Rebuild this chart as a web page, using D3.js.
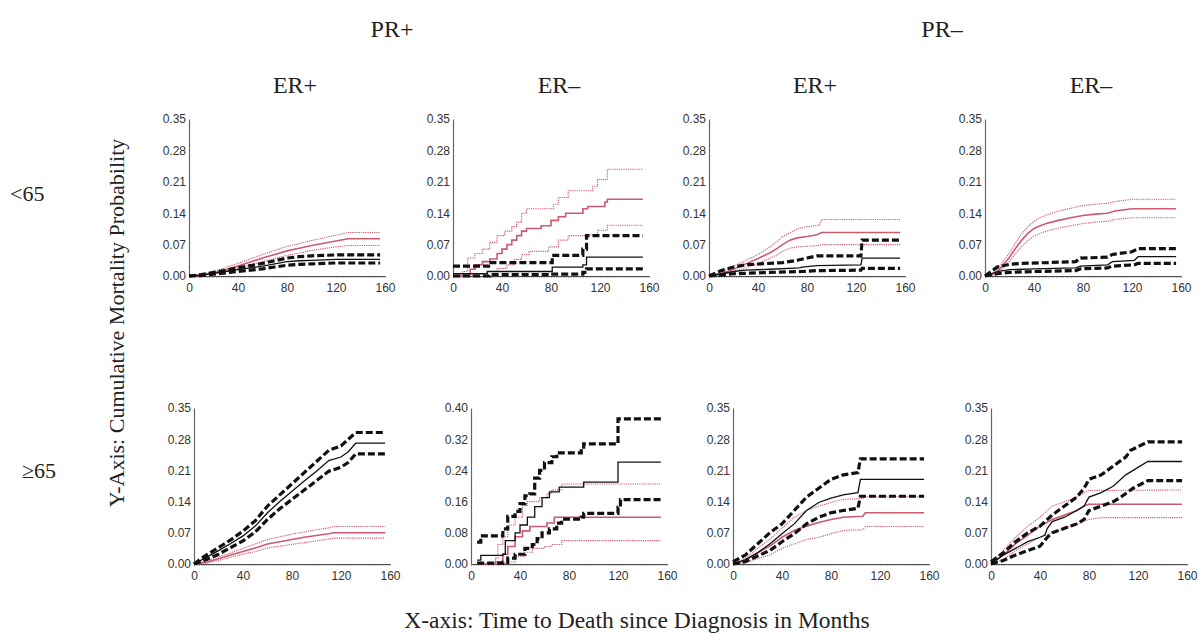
<!DOCTYPE html>
<html>
<head>
<meta charset="utf-8">
<script src="https://cdn.jsdelivr.net/npm/d3@7"></script>
<style>
body { margin: 0; background: #fff; }
</style>
</head>
<body>
<svg id="chart" width="1204" height="635"></svg>
<script>
// labels
var prLabels = ["PR+", "PR–"];
var erLabels = ["ER+", "ER–", "ER+", "ER–"];
var ageLabels = ["<65", "≥65"];
var xTicks = [0, 40, 80, 120, 160];
var yTicks35 = [0, 0.07, 0.14, 0.21, 0.28, 0.35];
var yTicks40 = [0, 0.08, 0.16, 0.24, 0.32, 0.40];

// [month, cumulative probability] -- red = first group, black = second group
// panel 1: <65, PR+ ER+
var p1RedEst = [[0,0],[10,0.002],[20,0.007],[30,0.014],[40,0.022],[50,0.031],[60,0.040],[70,0.048],[80,0.056],[90,0.062],[100,0.068],[110,0.073],[120,0.078],[130,0.083],[156,0.083]];
var p1RedHi = [[0,0],[10,0.003],[20,0.010],[30,0.019],[40,0.028],[50,0.038],[60,0.048],[70,0.057],[80,0.066],[90,0.072],[100,0.079],[110,0.085],[120,0.091],[130,0.097],[156,0.097]];
var p1RedLo = [[0,0],[10,0.001],[20,0.005],[30,0.010],[40,0.017],[50,0.024],[60,0.032],[70,0.039],[80,0.046],[90,0.051],[100,0.057],[110,0.061],[120,0.065],[130,0.068],[156,0.068]];
var p1BlkEst = [[0,0],[10,0.002],[20,0.006],[30,0.010],[40,0.014],[50,0.018],[60,0.022],[70,0.027],[80,0.032],[90,0.034],[100,0.035],[110,0.036],[120,0.037],[156,0.037]];
var p1BlkHi = [[0,0],[10,0.003],[20,0.008],[30,0.013],[40,0.018],[50,0.023],[60,0.028],[70,0.034],[80,0.040],[90,0.043],[100,0.045],[110,0.046],[120,0.047],[156,0.047]];
var p1BlkLo = [[0,0],[10,0.001],[20,0.004],[30,0.007],[40,0.010],[50,0.013],[60,0.016],[70,0.020],[80,0.024],[90,0.026],[100,0.027],[110,0.028],[120,0.029],[156,0.029]];

// panel 2: <65, PR+ ER-
var p2RedEst = [[0,0],[10,0.005],[14,0.015],[18,0.025],[24,0.032],[30,0.038],[36,0.05],[40,0.06],[44,0.07],[48,0.08],[52,0.09],[56,0.10],[60,0.106],[72,0.112],[80,0.124],[86,0.132],[92,0.14],[106,0.15],[110,0.155],[124,0.165],[126,0.171],[155,0.171]];
var p2RedHi = [[0,0],[8,0.01],[12,0.04],[18,0.05],[24,0.06],[30,0.075],[36,0.09],[42,0.10],[48,0.11],[52,0.12],[56,0.14],[60,0.15],[82,0.16],[86,0.175],[94,0.19],[114,0.20],[118,0.215],[126,0.238],[155,0.238]];
var p2RedLo = [[0,0],[14,0.002],[20,0.005],[28,0.01],[36,0.017],[44,0.025],[50,0.037],[56,0.048],[62,0.055],[78,0.065],[86,0.08],[94,0.09],[108,0.092],[118,0.102],[126,0.113],[155,0.113]];
var p2BlkEst = [[0,0.005],[28,0.01],[81,0.02],[106,0.025],[109,0.042],[155,0.042]];
var p2BlkHi = [[0,0.022],[29,0.03],[81,0.046],[106,0.06],[109,0.09],[155,0.09]];
var p2BlkLo = [[0,0],[30,0.003],[80,0.004],[106,0.008],[109,0.016],[155,0.016]];

// panel 3: <65, PR- ER+
var p3RedEst = [[0,0],[10,0.005],[20,0.015],[30,0.027],[40,0.039],[50,0.052],[56,0.062],[60,0.07],[66,0.08],[72,0.085],[80,0.088],[88,0.092],[92,0.097],[156,0.097]];
var p3RedHi = [[0,0],[10,0.008],[20,0.022],[30,0.035],[40,0.048],[50,0.065],[56,0.078],[60,0.088],[66,0.096],[72,0.105],[80,0.11],[90,0.113],[92,0.126],[156,0.126]];
var p3RedLo = [[0,0],[10,0.002],[20,0.01],[30,0.018],[40,0.028],[50,0.04],[56,0.048],[60,0.055],[66,0.062],[72,0.065],[80,0.066],[90,0.068],[92,0.07],[156,0.07]];
var p3BlkEst = [[0,0],[10,0.005],[20,0.01],[30,0.013],[50,0.015],[74,0.018],[76,0.02],[88,0.023],[124,0.025],[125,0.04],[156,0.04]];
var p3BlkHi = [[0,0],[10,0.012],[20,0.02],[30,0.025],[60,0.03],[72,0.035],[80,0.04],[88,0.045],[124,0.045],[125,0.08],[156,0.08]];
var p3BlkLo = [[0,0],[10,0.002],[20,0.005],[30,0.006],[50,0.008],[76,0.01],[88,0.012],[124,0.013],[125,0.017],[156,0.017]];

// panel 4: <65, PR- ER-
var p4RedEst = [[0,0],[5,0.002],[10,0.01],[15,0.025],[20,0.042],[25,0.062],[30,0.08],[35,0.095],[40,0.106],[45,0.112],[50,0.117],[60,0.124],[70,0.13],[80,0.135],[90,0.138],[100,0.14],[106,0.145],[120,0.15],[156,0.15]];
var p4RedHi = [[0,0],[5,0.004],[10,0.015],[15,0.033],[20,0.052],[25,0.074],[30,0.094],[35,0.11],[40,0.122],[45,0.13],[50,0.136],[60,0.145],[70,0.151],[80,0.157],[90,0.16],[100,0.162],[106,0.166],[120,0.171],[156,0.171]];
var p4RedLo = [[0,0],[5,0.001],[10,0.006],[15,0.018],[20,0.033],[25,0.05],[30,0.066],[35,0.079],[40,0.089],[45,0.095],[50,0.1],[60,0.107],[70,0.112],[80,0.117],[90,0.12],[100,0.122],[106,0.126],[120,0.13],[156,0.13]];
var p4BlkEst = [[0,0],[5,0.005],[10,0.01],[20,0.014],[40,0.016],[74,0.018],[78,0.022],[100,0.025],[104,0.032],[122,0.035],[125,0.043],[156,0.043]];
var p4BlkHi = [[0,0],[5,0.01],[10,0.02],[20,0.026],[30,0.028],[74,0.032],[78,0.04],[100,0.042],[104,0.048],[120,0.054],[125,0.061],[156,0.061]];
var p4BlkLo = [[0,0],[5,0.003],[10,0.005],[20,0.008],[40,0.01],[74,0.012],[78,0.016],[100,0.018],[104,0.022],[122,0.025],[125,0.028],[156,0.028]];

// panel 5: >=65, PR+ ER+
var p5RedEst = [[0,0],[10,0.004],[20,0.012],[30,0.02],[40,0.028],[50,0.036],[60,0.045],[70,0.05],[80,0.055],[90,0.06],[100,0.064],[110,0.068],[114,0.07],[156,0.07]];
var p5RedHi = [[0,0],[10,0.006],[20,0.016],[30,0.025],[40,0.035],[50,0.045],[60,0.055],[70,0.061],[80,0.067],[90,0.072],[100,0.077],[110,0.081],[114,0.084],[156,0.084]];
var p5RedLo = [[0,0],[10,0.002],[20,0.008],[30,0.015],[40,0.022],[50,0.028],[60,0.036],[70,0.04],[80,0.044],[90,0.048],[100,0.052],[110,0.056],[114,0.058],[156,0.058]];
var p5BlkEst = [[0,0],[10,0.015],[20,0.03],[30,0.046],[40,0.063],[50,0.085],[60,0.115],[70,0.14],[80,0.163],[90,0.186],[100,0.208],[110,0.232],[120,0.24],[126,0.252],[132,0.271],[156,0.271]];
var p5BlkHi = [[0,0],[10,0.02],[20,0.037],[30,0.054],[40,0.074],[50,0.097],[60,0.13],[70,0.155],[80,0.18],[90,0.205],[100,0.23],[110,0.255],[120,0.265],[126,0.28],[132,0.295],[156,0.295]];
var p5BlkLo = [[0,0],[10,0.01],[20,0.022],[30,0.037],[40,0.052],[50,0.072],[60,0.1],[70,0.124],[80,0.145],[90,0.166],[100,0.187],[110,0.208],[120,0.217],[126,0.228],[132,0.247],[156,0.247]];

// panel 6: >=65, PR+ ER-
var p6RedEst = [[5,0],[20,0.005],[26,0.025],[30,0.045],[36,0.07],[42,0.085],[48,0.096],[62,0.105],[68,0.12],[155,0.12]];
var p6RedHi = [[5,0],[20,0.015],[22,0.05],[26,0.07],[30,0.1],[36,0.12],[42,0.15],[46,0.16],[56,0.17],[62,0.18],[66,0.19],[74,0.205],[155,0.205]];
var p6RedLo = [[5,0],[28,0.005],[36,0.02],[44,0.03],[50,0.04],[60,0.045],[66,0.05],[74,0.06],[155,0.06]];
var p6BlkEst = [[5,0.01],[8,0.022],[26,0.025],[28,0.06],[36,0.08],[40,0.1],[46,0.12],[52,0.147],[58,0.17],[64,0.185],[72,0.197],[92,0.21],[120,0.261],[155,0.261]];
var p6BlkHi = [[5,0.056],[8,0.072],[26,0.09],[30,0.122],[36,0.135],[40,0.155],[44,0.175],[48,0.18],[52,0.22],[56,0.24],[60,0.26],[66,0.275],[70,0.285],[90,0.29],[92,0.308],[120,0.372],[155,0.372]];
var p6BlkLo = [[5,0.002],[26,0.004],[30,0.015],[36,0.025],[44,0.04],[50,0.05],[54,0.065],[58,0.08],[64,0.09],[70,0.105],[74,0.115],[90,0.12],[92,0.13],[120,0.145],[122,0.165],[155,0.165]];

// panel 7: >=65, PR- ER+
var p7RedEst = [[0,0],[10,0.008],[20,0.025],[30,0.04],[40,0.06],[50,0.075],[60,0.085],[70,0.093],[80,0.1],[90,0.105],[106,0.107],[108,0.115],[156,0.115]];
var p7RedHi = [[0,0],[10,0.012],[20,0.035],[30,0.055],[40,0.08],[50,0.105],[60,0.12],[70,0.13],[80,0.138],[90,0.145],[106,0.147],[108,0.151],[156,0.151]];
var p7RedLo = [[0,0],[10,0.003],[20,0.012],[30,0.02],[40,0.035],[50,0.045],[60,0.055],[70,0.06],[80,0.068],[90,0.075],[106,0.077],[108,0.084],[156,0.084]];
var p7BlkEst = [[0,0],[10,0.01],[20,0.025],[30,0.045],[40,0.068],[50,0.09],[60,0.12],[70,0.138],[80,0.148],[90,0.155],[102,0.16],[104,0.19],[156,0.19]];
var p7BlkHi = [[0,0.005],[10,0.02],[20,0.045],[30,0.07],[40,0.09],[50,0.12],[60,0.15],[70,0.17],[80,0.19],[90,0.2],[102,0.205],[104,0.236],[156,0.236]];
var p7BlkLo = [[0,0],[10,0.005],[20,0.018],[30,0.03],[40,0.05],[50,0.068],[60,0.09],[70,0.105],[80,0.115],[90,0.12],[102,0.125],[104,0.152],[156,0.152]];

// panel 8: >=65, PR- ER-
var p8RedEst = [[0,0],[10,0.02],[20,0.045],[30,0.065],[40,0.085],[50,0.1],[60,0.11],[70,0.12],[76,0.13],[80,0.134],[156,0.134]];
var p8RedHi = [[0,0],[10,0.03],[20,0.06],[30,0.085],[40,0.105],[50,0.13],[60,0.14],[70,0.15],[76,0.16],[80,0.165],[156,0.166]];
var p8RedLo = [[0,0],[10,0.01],[20,0.03],[30,0.045],[40,0.06],[50,0.07],[60,0.08],[70,0.09],[80,0.1],[90,0.104],[156,0.104]];
var p8BlkEst = [[0,0],[10,0.02],[20,0.035],[30,0.05],[40,0.06],[44,0.065],[46,0.08],[50,0.095],[60,0.105],[70,0.12],[76,0.13],[80,0.15],[90,0.16],[100,0.175],[110,0.2],[116,0.21],[128,0.23],[156,0.23]];
var p8BlkHi = [[0,0.005],[10,0.025],[20,0.05],[30,0.07],[40,0.085],[50,0.11],[60,0.13],[70,0.15],[76,0.17],[80,0.19],[90,0.2],[100,0.22],[110,0.24],[114,0.255],[128,0.274],[156,0.274]];
var p8BlkLo = [[0,0],[10,0.008],[20,0.02],[30,0.03],[40,0.04],[46,0.06],[50,0.07],[60,0.08],[70,0.09],[76,0.1],[80,0.12],[90,0.13],[100,0.14],[106,0.15],[116,0.17],[128,0.187],[156,0.187]];

var panels = [
  {row: 0, col: 0, ticks: yTicks35, step: false, series: [p1RedHi, p1RedLo, p1RedEst, p1BlkHi, p1BlkLo, p1BlkEst]},
  {row: 0, col: 1, ticks: yTicks35, step: true,  series: [p2RedHi, p2RedLo, p2RedEst, p2BlkHi, p2BlkLo, p2BlkEst]},
  {row: 0, col: 2, ticks: yTicks35, step: false, series: [p3RedHi, p3RedLo, p3RedEst, p3BlkHi, p3BlkLo, p3BlkEst]},
  {row: 0, col: 3, ticks: yTicks35, step: false, series: [p4RedHi, p4RedLo, p4RedEst, p4BlkHi, p4BlkLo, p4BlkEst]},
  {row: 1, col: 0, ticks: yTicks35, step: false, series: [p5RedHi, p5RedLo, p5RedEst, p5BlkHi, p5BlkLo, p5BlkEst]},
  {row: 1, col: 1, ticks: yTicks40, step: true,  series: [p6RedHi, p6RedLo, p6RedEst, p6BlkHi, p6BlkLo, p6BlkEst]},
  {row: 1, col: 2, ticks: yTicks35, step: false, series: [p7RedHi, p7RedLo, p7RedEst, p7BlkHi, p7BlkLo, p7BlkEst]},
  {row: 1, col: 3, ticks: yTicks35, step: false, series: [p8RedHi, p8RedLo, p8RedEst, p8BlkHi, p8BlkLo, p8BlkEst]}
];

// line styles, same order as series
var red = "#cc5a70";
var styles = [
  {stroke: red, width: 1.1, dash: "1.2,1"},
  {stroke: red, width: 1.1, dash: "1.2,1"},
  {stroke: red, width: 1.6, dash: null},
  {stroke: "#111", width: 3.2, dash: "7,3"},
  {stroke: "#111", width: 3.2, dash: "7,3"},
  {stroke: "#111", width: 1.3, dash: null}
];

// layout
var originX = [[189, 453, 709, 985], [194, 471, 733, 991]];
var rowTop = [119, 408];
var rowBottom = [276, 564];
var plotW = 196;

var svg = d3.select("#chart");
var serif = "'Liberation Serif', 'Times New Roman', serif";
var sans = "12px 'Liberation Sans', Arial, sans-serif";

panels.forEach(p => {
  var x0 = originX[p.row][p.col];
  var x = d3.scaleLinear().domain([0, 160]).range([x0, x0 + plotW]);
  var y = d3.scaleLinear().domain([0, d3.max(p.ticks)]).range([rowBottom[p.row], rowTop[p.row]]);

  var g = svg.append("g");

  // minor ticks along the x axis
  g.append("g")
    .attr("transform", `translate(0,${rowBottom[p.row]})`)
    .call(d3.axisBottom(x).tickValues(d3.range(0, 161, 2)).tickSize(2).tickSizeOuter(0).tickFormat(""))
    .call(g => g.select(".domain").attr("stroke", "#444").attr("stroke-width", 1))
    .call(g => g.selectAll(".tick line").attr("stroke", "#666").attr("stroke-width", 0.6));

  g.append("g")
    .attr("transform", `translate(0,${rowBottom[p.row]})`)
    .call(d3.axisBottom(x).tickValues(xTicks).tickSize(0).tickPadding(7))
    .call(g => g.select(".domain").remove())
    .call(g => g.selectAll("text").attr("fill", "#333").style("font", sans));

  g.append("g")
    .attr("transform", `translate(${x0},0)`)
    .call(d3.axisLeft(y).tickValues(p.ticks).tickSize(0).tickSizeOuter(0).tickPadding(3).tickFormat(d3.format(".2f")))
    .call(g => g.select(".domain").attr("stroke", "#666").attr("stroke-width", 1.2))
    .call(g => g.selectAll("text").attr("fill", "#333").style("font", sans));

  var line = d3.line()
    .x(d => x(d[0]))
    .y(d => y(d[1]))
    .curve(p.step ? d3.curveStepAfter : d3.curveLinear);

  p.series.forEach((s, i) => {
    g.append("path")
      .datum(s)
      .attr("fill", "none")
      .attr("stroke", styles[i].stroke)
      .attr("stroke-width", styles[i].width)
      .attr("stroke-dasharray", styles[i].dash)
      .attr("d", line);
  });
});

// headers
svg.selectAll(".pr").data(prLabels).join("text")
  .attr("x", (d, i) => [392, 942][i]).attr("y", 37)
  .attr("text-anchor", "middle")
  .style("font", "24px " + serif).attr("fill", "#222")
  .text(d => d);

svg.selectAll(".er").data(erLabels).join("text")
  .attr("class", "er")
  .attr("x", (d, i) => originX[0][i] + plotW / 2 + 8).attr("y", 93)
  .attr("text-anchor", "middle")
  .style("font", "24px " + serif).attr("fill", "#222")
  .text(d => d);

svg.selectAll(".age").data(ageLabels).join("text")
  .attr("class", "age")
  .attr("x", (d, i) => [10, 22][i]).attr("y", (d, i) => [201, 478][i])
  .style("font", "22px " + serif).attr("fill", "#222")
  .text(d => d);

svg.append("text")
  .attr("transform", "translate(124,323) rotate(-90)")
  .attr("text-anchor", "middle")
  .style("font", "22px " + serif).attr("fill", "#222")
  .text("Y-Axis: Cumulative Mortality Probability");

svg.append("text")
  .attr("x", 637).attr("y", 628)
  .attr("text-anchor", "middle")
  .style("font", "23.5px " + serif).attr("fill", "#222")
  .text("X-axis: Time to Death since Diagnosis in Months");
</script>
</body>
</html>
